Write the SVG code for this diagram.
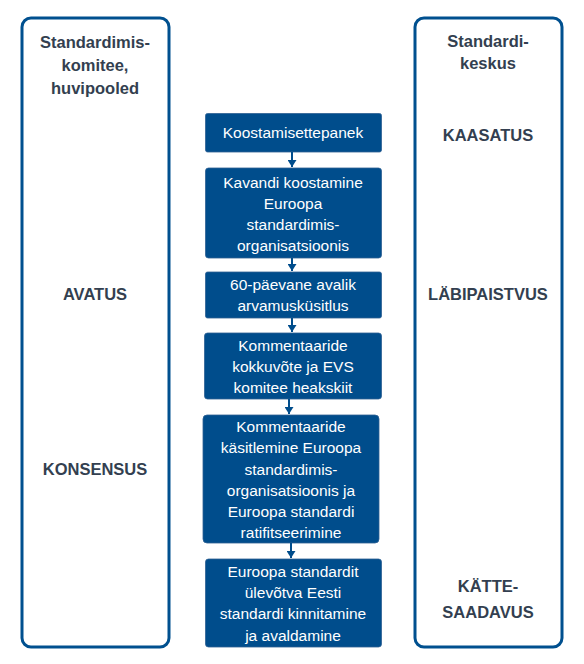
<svg xmlns="http://www.w3.org/2000/svg" width="584" height="664" viewBox="0 0 584 664">
<style>
.frame{fill:#fff;stroke:#00508F;stroke-width:3}
.box{fill:#004D8C;stroke:#2D5F93;stroke-width:0.8}
.bt{font-family:"Liberation Sans",Arial,sans-serif;font-size:15.5px;fill:#fff;text-anchor:middle}
.st{font-family:"Liberation Sans",Arial,sans-serif;font-size:16.5px;font-weight:bold;fill:#333F50;text-anchor:middle}
.con{stroke:#004D8C;stroke-width:2;fill:none;marker-end:url(#ah)}
</style>
<defs>
<marker id="ah" markerWidth="7" markerHeight="9" refX="7" refY="4.5" orient="auto" markerUnits="userSpaceOnUse" viewBox="0 0 7 9">
<path d="M0,0 L7,4.5 L0,9 Z" fill="#004D8C"/>
</marker>
</defs>
<rect width="584" height="664" fill="#fff"/>
<g id="left-frame">
<rect class="frame" x="22" y="18" width="147" height="629" rx="9"/>
<text class="st" x="95" y="48">Standardimis-</text>
<text class="st" x="95" y="71">komitee,</text>
<text class="st" x="95" y="94">huvipooled</text>
<text class="st" x="95" y="300">AVATUS</text>
<text class="st" x="95" y="475">KONSENSUS</text>
</g>
<g id="right-frame">
<rect class="frame" x="415" y="18" width="147" height="629" rx="9"/>
<text class="st" x="488" y="47">Standardi-</text>
<text class="st" x="488" y="69">keskus</text>
<text class="st" x="488" y="141">KAASATUS</text>
<text class="st" x="488" y="300">LÄBIPAISTVUS</text>
<text class="st" x="488" y="592">KÄTTE-</text>
<text class="st" x="488" y="618">SAADAVUS</text>
</g>
<g id="n1">
<rect class="box" x="205.5" y="113.5" width="176" height="38.5" rx="2"/>
<text class="bt" x="293" y="138">Koostamisettepanek</text>
</g>
<g id="n2">
<rect class="box" x="205.5" y="168" width="176" height="90" rx="3"/>
<text class="bt" x="293" y="188">Kavandi koostamine</text>
<text class="bt" x="293" y="209">Euroopa</text>
<text class="bt" x="293" y="230">standardimis-</text>
<text class="bt" x="293" y="251">organisatsioonis</text>
</g>
<g id="n3">
<rect class="box" x="205.5" y="272" width="176" height="46" rx="2"/>
<text class="bt" x="293" y="290">60-päevane avalik</text>
<text class="bt" x="293" y="311">arvamusküsitlus</text>
</g>
<g id="n4">
<rect class="box" x="204.5" y="333" width="177" height="66" rx="3"/>
<text class="bt" x="293" y="351">Kommentaaride</text>
<text class="bt" x="293" y="372">kokkuvõte ja EVS</text>
<text class="bt" x="293" y="393">komitee heakskiit</text>
</g>
<g id="n5">
<rect class="box" x="203" y="415" width="176" height="128" rx="4"/>
<text class="bt" x="291" y="432">Kommentaaride</text>
<text class="bt" x="291" y="453">käsitlemine Euroopa</text>
<text class="bt" x="291" y="475">standardimis-</text>
<text class="bt" x="291" y="496">organisatsioonis ja</text>
<text class="bt" x="291" y="517">Euroopa standardi</text>
<text class="bt" x="291" y="538">ratifitseerimine</text>
</g>
<g id="n6">
<rect class="box" x="205.5" y="559" width="176" height="88" rx="3"/>
<text class="bt" x="293" y="577">Euroopa standardit</text>
<text class="bt" x="293" y="598">ülevõtva Eesti</text>
<text class="bt" x="293" y="619">standardi kinnitamine</text>
<text class="bt" x="293" y="641">ja avaldamine</text>
</g>
<g id="connectors">
<line class="con" x1="292" y1="152" x2="292" y2="167"/>
<line class="con" x1="292" y1="258" x2="292" y2="271"/>
<line class="con" x1="292" y1="318" x2="292" y2="332"/>
<line class="con" x1="289" y1="399" x2="289" y2="414"/>
<line class="con" x1="291" y1="543" x2="291" y2="558"/>
</g>
</svg>
